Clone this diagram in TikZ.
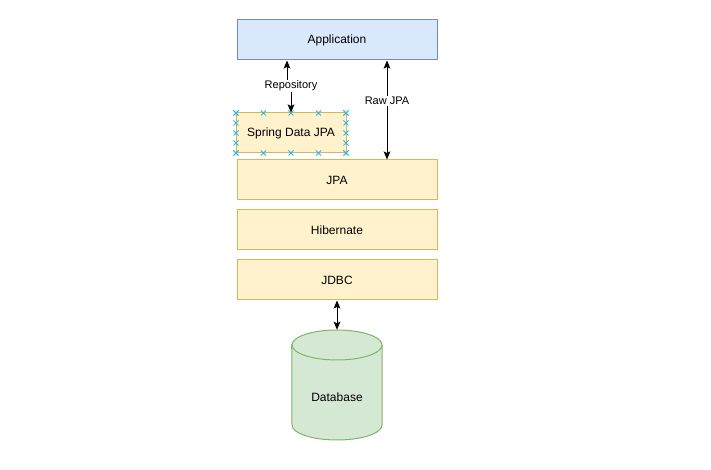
\documentclass[tikz,border=0pt]{standalone}
\usepackage{fontspec}
\setmainfont{Liberation Sans}
\usetikzlibrary{arrows.meta}
\definecolor{appfill}{HTML}{DAE8FC}
\definecolor{appline}{HTML}{6C8EBF}
\definecolor{layfill}{HTML}{FFF2CC}
\definecolor{layline}{HTML}{D6B656}
\definecolor{dbfill}{HTML}{D5E8D4}
\definecolor{dbline}{HTML}{82B366}
\definecolor{handlecol}{RGB}{41,182,242}
\tikzset{
	layer/.style={draw=layline, fill=layfill, line width=0.75pt, minimum width=150pt, minimum height=30pt, inner sep=0pt, font=\fontsize{9}{10}\selectfont},
	appbox/.style={layer, draw=appline, fill=appfill},
	lbl/.style={fill=white, inner sep=1pt, font=\fontsize{8.25}{9}\selectfont},
	handle/.style={draw=handlecol, line width=0.6pt},
}
\begin{document}
\begin{tikzpicture}[x=0.75pt, y=0.75pt, line join=round, >={Stealth[length=6pt, width=5pt, inset=1.2pt]}] %Spring Data JPA layers
	\useasboundingbox (0,0) rectangle (711,470);
	\node[appbox] (app) at (337,430) {Application};
	\node[layer, minimum width=82.5pt] (spring) at (291,337) {Spring Data JPA};
	\node[layer] (jpa) at (337,290) {JPA};
	\node[layer] (hibernate) at (337,240) {Hibernate};
	\node[layer] (jdbc) at (337,190) {JDBC};
	\node[minimum width=67.5pt, minimum height=82.5pt, inner sep=0pt] (db) at (337,85) {};
	% cylinder
	\draw[draw=dbline, fill=dbfill, line width=0.75pt] (db.north west) ++(0,-15) -- (292,45) arc[start angle=180, end angle=360, x radius=33.75pt, y radius=11.25pt] -- (382,125) arc[start angle=0, end angle=180, x radius=33.75pt, y radius=11.25pt] -- cycle;
	\draw[draw=dbline, line width=0.75pt] (292,125) arc[start angle=180, end angle=360, x radius=33.75pt, y radius=11.25pt];
	\node[font=\fontsize{9}{10}\selectfont] (dbtext) at (337,73) {Database};
	% selection handles
	\foreach \i in {0,...,4}{
		\draw[handle] (236+27.5*\i,357) +(-2.5,-2.5) -- +(2.5,2.5) +(-2.5,2.5) -- +(2.5,-2.5);
		\draw[handle] (236+27.5*\i,317) +(-2.5,-2.5) -- +(2.5,2.5) +(-2.5,2.5) -- +(2.5,-2.5);
		\draw[handle] (236,357-10*\i) +(-2.5,-2.5) -- +(2.5,2.5) +(-2.5,2.5) -- +(2.5,-2.5);
		\draw[handle] (346,357-10*\i) +(-2.5,-2.5) -- +(2.5,2.5) +(-2.5,2.5) -- +(2.5,-2.5);
	}
	% connectors
	\draw[<->, line width=0.75pt] (app.south -| 287,0) -- (287,384) -- (291,384) -- (spring.north);
	\node[lbl] (repo) at (291,384) {Repository};
	\draw[<->, line width=0.75pt] (app.south -| 387,0) -- node[lbl, pos=0.41] (rawjpa) {Raw JPA} (jpa.north -| 387,0);
	\draw[<->, line width=0.75pt] (jdbc.south) -- (db.north);
\end{tikzpicture}
\end{document}
